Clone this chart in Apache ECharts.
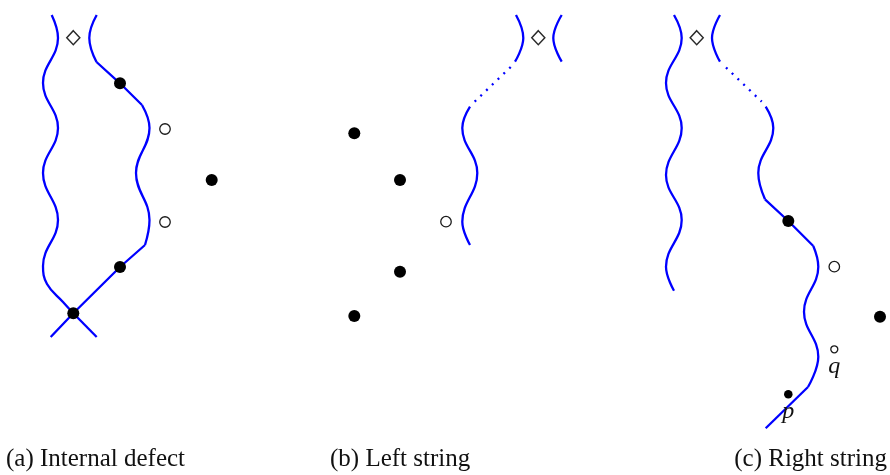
<!DOCTYPE html>
<html>
<head>
<meta charset="utf-8">
<script src="https://cdn.jsdelivr.net/npm/echarts@6/dist/echarts.min.js"></script>
<style>
html,body{margin:0;padding:0;background:#fff;}
#chart{width:890px;height:475px;}
</style>
</head>
<body>
<div id="chart"></div>
<script>
// ---- Panel (a): internal defect ----
const aLeftWave   = [[51.7,15],[58,38],[43,83],[58,128],[43,173],[58,220],[43,266],[47,284],[63,302],[73.3,313.3]];
const aLeftTail   = [[73.3,313.3],[96.7,337]];
const aRightArc   = [[96.7,15],[89.3,38],[96.5,62]];
const aRightLine1 = [[96.5,62],[120,83.3],[142,105]];
const aRightWave  = [[142,105],[149.5,128],[136,173],[149.5,220],[145,245]];
const aRightLine2 = [[145,245],[120,267],[73.3,313.3],[50.7,337]];
const aBlack      = [[120,83.3],[120,267],[73.3,313.3],[211.7,180]];
const aOpen       = [[165,129],[165,222]];
const aDiamond    = [[73.3,37.7]];

// ---- Panel (b): left string ----
const bArcL     = [[516,15],[523.3,38],[515,61.7]];
const bDotted   = [[510.7,67],[474.6,101.7]];
const bWave     = [[470,106.7],[462.3,128],[477.3,173],[462.3,221.7],[470,245]];
const bArcR     = [[561.7,15],[553.3,38],[561.7,61.7]];
const bBlack    = [[354.3,133.3],[400,180],[400,271.7],[354.3,316]];
const bOpen     = [[446,221.7]];
const bDiamond  = [[538.3,37.7]];

// ---- Panel (c): right string ----
const cLeftWave   = [[674,15],[681.7,38],[666,83],[681.7,128],[666,175],[681.7,220],[666,266.7],[674,290.7]];
const cArcR       = [[720,15],[712,38],[720,61.7]];
const cDotted     = [[726,67.5],[761.7,101.7]];
const cWave1      = [[765.7,106.7],[773.3,128],[758.3,173],[765,199.3]];
const cLine1      = [[765,199.3],[788.3,221],[813.3,246]];
const cWave2      = [[813.3,246],[818.3,266.7],[804,311.7],[818.3,356.7],[808,387]];
const cLine2      = [[808,387],[765.7,428.3]];
const cBlack      = [[788.3,221],[880,316.7]];
const cOpen       = [[834.3,266.7]];
const cDiamond    = [[696.7,37.7]];
const cQ          = [[834.3,349.3]];
const cP          = [[788.3,394.3]];

const captions = ['(a) Internal defect','(b) Left string','(c) Right string'];

const BLUE = '#0000ff';
function curve(data, smooth, dotted){
  return {type:'line', data:data, smooth:smooth ? 0.42 : false, symbol:'none', silent:true,
    lineStyle:{color:BLUE, width:2.3, type: dotted ? [2,6] : 'solid', cap:'butt'}, z:2};
}
function dots(data, size, filled, label){
  return {type:'scatter', data:data, symbol:'circle', symbolSize:size, silent:true, z:5,
    itemStyle: filled ? {color:'#000', opacity:1} : {color:'#fff', borderColor:'#1a1a1a', borderWidth:1.3, opacity:1},
    label: label ? {show:true, position:'bottom', distance:label.d, formatter:label.t,
      fontFamily:'Liberation Serif', fontStyle:'italic', fontSize:24, color:'#111'} : {show:false}};
}
function diamonds(data){
  return {type:'scatter', data:data, symbol:'diamond', symbolSize:[13,14], silent:true, z:5,
    itemStyle:{color:'#fff', borderColor:'#2a2a2a', borderWidth:1.5, opacity:1}};
}

const chart = echarts.init(document.getElementById('chart'), null, {renderer:'canvas'});
chart.setOption({
  animation:false,
  backgroundColor:'#fff',
  grid:{left:0,right:0,top:0,bottom:0},
  xAxis:{type:'value', min:0, max:890, show:false},
  yAxis:{type:'value', min:0, max:475, inverse:true, show:false},
  series:[
    curve(aLeftWave,true), curve(aLeftTail,false), curve(aRightArc,true), curve(aRightLine1,false),
    curve(aRightWave,true), curve(aRightLine2,false),
    curve(bArcL,true), curve(bDotted,false,true), curve(bWave,true), curve(bArcR,true),
    curve(cLeftWave,true), curve(cArcR,true), curve(cDotted,false,true), curve(cWave1,true),
    curve(cLine1,false), curve(cWave2,true), curve(cLine2,false),
    dots(aBlack,12,true), dots(aOpen,10.5,false), diamonds(aDiamond),
    dots(bBlack,12,true), dots(bOpen,10.5,false), diamonds(bDiamond),
    dots(cBlack,12,true), dots(cOpen,10.5,false), diamonds(cDiamond),
    dots(cQ,7,false,{t:'q',d:1}), dots(cP,8.5,true,{t:'p',d:1})
  ],
  graphic:[
    {type:'text', left:6, top:447, style:{text:captions[0], font:'25px "Liberation Serif"', fill:'#111'}},
    {type:'text', left:330, top:447, style:{text:captions[1], font:'25px "Liberation Serif"', fill:'#111'}},
    {type:'text', right:3, top:447, style:{text:captions[2], font:'25px "Liberation Serif"', fill:'#111'}}
  ]
});
</script>
</body>
</html>
